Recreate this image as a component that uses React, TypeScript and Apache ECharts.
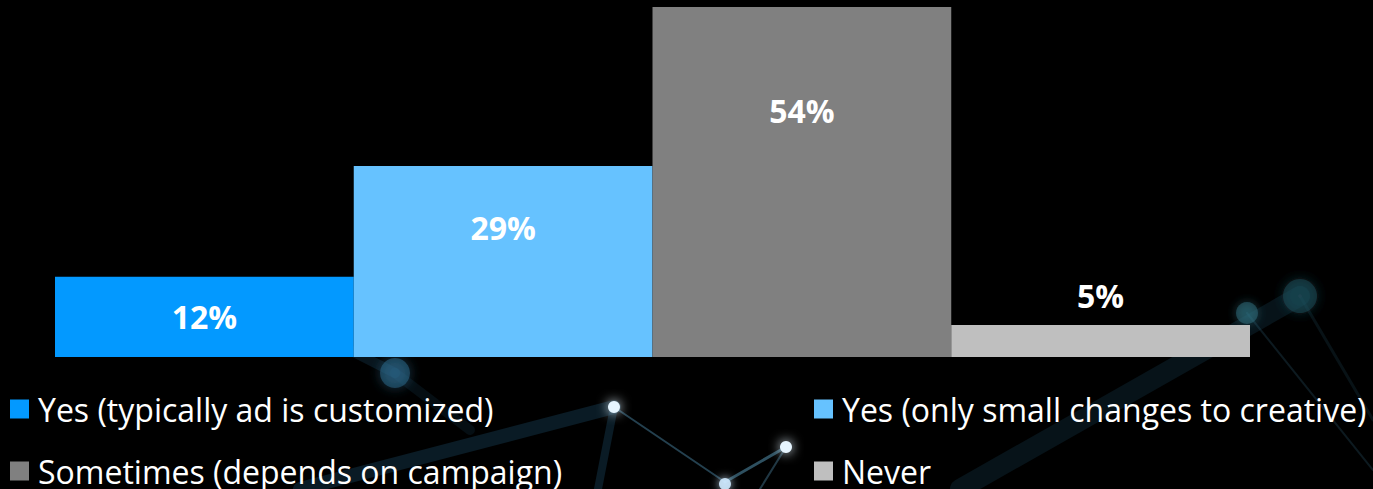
import React, { useEffect, useRef } from "react";
import * as echarts from "echarts";

const seriesNames = [
  "Yes (typically ad is customized)",
  "Yes (only small changes to creative)",
  "Sometimes (depends on campaign)",
  "Never",
];
const seriesValues = [12.3, 29.3, 53.7, 4.9];
const seriesColors = ["#0399FF", "#66C2FF", "#808080", "#BFBFBF"];
const category = ["Response"];

export default function App() {
  const ref = useRef<HTMLDivElement>(null);
  useEffect(() => {
    document.body.style.margin = "0";
    document.body.style.background = "#000";
    const chart = echarts.init(ref.current!, null, { renderer: "svg" });
    const labelPos: any[] = [
      ["50%", 40],
      ["50%", 61],
      ["50%", 103],
      "top",
    ];
    const glow = (x: number, y: number, r: number, fill: string, blur: number, op: number) => ({
      type: "circle",
      silent: true,
      shape: { cx: x, cy: y, r },
      style: { fill, shadowBlur: blur, shadowColor: fill, opacity: op },
      z: -10,
    });
    const beam = (x1: number, y1: number, x2: number, y2: number, w: number, color: string, op: number) => ({
      type: "line",
      silent: true,
      shape: { x1, y1, x2, y2 },
      style: { stroke: color, lineWidth: w, opacity: op, lineCap: "round" },
      z: -11,
    });
    chart.setOption({
      animation: false,
      backgroundColor: "#000000",
      graphic: [
        beam(300, 489, 614, 407, 14, "#1d4d6b", 0.35),
        beam(614, 407, 598, 489, 8, "#1d4d6b", 0.35),
        beam(614, 407, 725, 482, 2, "#4f8fb0", 0.45),
        beam(725, 482, 786, 447, 3, "#5b9fc0", 0.5),
        beam(786, 447, 760, 489, 2, "#5b9fc0", 0.35),
        beam(330, 340, 395, 373, 10, "#1a4560", 0.3),
        beam(395, 373, 470, 430, 10, "#1a4560", 0.2),
        beam(960, 489, 1300, 296, 20, "#173f52", 0.3),
        beam(1247, 313, 1373, 470, 2, "#3a7890", 0.22),
        beam(1300, 296, 1373, 420, 3, "#2a5a70", 0.2),
        glow(395, 373, 15, "#2d6c90", 12, 0.5),
        glow(614, 407, 6, "#e6f5ff", 12, 1),
        glow(786, 447, 6, "#e6f5ff", 12, 1),
        glow(725, 484, 6, "#cfeaff", 10, 0.9),
        glow(1247, 313, 11, "#2f6f80", 10, 0.5),
        glow(1300, 296, 17, "#1e4f5c", 12, 0.5),
      ],
      grid: { left: 55, right: 123, top: 7, bottom: 132 },
      xAxis: {
        type: "category",
        data: category,
        show: false,
      },
      yAxis: {
        type: "value",
        min: 0,
        max: "dataMax",
        show: false,
      },
      legend: seriesNames.map((n, i) => ({
        data: [n],
        left: i % 2 === 0 ? 10 : 814,
        top: i < 2 ? 385 : 447,
        icon: "rect",
        itemWidth: 19,
        itemHeight: 19,
        itemGap: 10,
        padding: 0,
        selectedMode: false,
        textStyle: {
          color: "#ffffff",
          fontSize: 32,
          lineHeight: 36,
          fontFamily: "Open Sans",
          padding: [0, 0, 12, 4],
        },
      })),
      series: seriesNames.map((n, i) => ({
        name: n,
        type: "bar",
        data: [seriesValues[i]],
        barGap: "0%",
        barCategoryGap: "0%",
        itemStyle: { color: seriesColors[i] },
        label: {
          show: true,
          position: labelPos[i],
          distance: 30,
          align: "center",
          verticalAlign: "middle",
          color: "#ffffff",
          fontSize: 32,
          fontWeight: "bold",
          fontFamily: "Open Sans",
          formatter: (p: any) => Math.round(p.value) + "%",
        },
      })),
    });
    return () => chart.dispose();
  }, []);
  return <div ref={ref} style={{ width: 1373, height: 489 }} />;
}
